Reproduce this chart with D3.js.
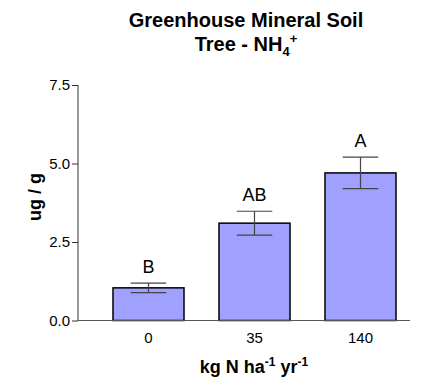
<!DOCTYPE html>
<html>
<head>
<meta charset="utf-8">
<script src="https://cdn.jsdelivr.net/npm/d3@7"></script>
<style>
  body { margin: 0; background: #fff; }
</style>
</head>
<body>
<div id="chart"></div>
<script>
// Data
const categories = ["0", "35", "140"];
const means = [1.04, 3.1, 4.7];
const errors = [0.15, 0.38, 0.5];
const letters = ["B", "AB", "A"];
const yTicks = [0, 2.5, 5.0, 7.5];

const width = 425;
const height = 386;
const font = "Arial, 'Liberation Sans', sans-serif";

const svg = d3.select("#chart")
  .append("svg")
  .attr("width", width)
  .attr("height", height)
  .style("font-family", font);

const y = d3.scaleLinear().domain([0, 7.5]).range([320.5, 85]);
const x = d3.scaleBand()
  .domain(categories)
  .range([95.5, 413.5])
  .paddingInner(0.33)
  .paddingOuter(0.165);

const axisX0 = 78;
const axisX1 = 410;

// Title
const title = svg.append("text")
  .attr("text-anchor", "middle")
  .style("font-size", "20px")
  .style("font-weight", "bold")
  .attr("fill", "#000");
title.append("tspan").attr("x", 246).attr("y", 27).text("Greenhouse Mineral Soil");
const t2 = title.append("tspan").attr("x", 246).attr("y", 51).text("Tree - NH");
t2.append("tspan").attr("dy", 5).style("font-size", "13px").text("4");
t2.append("tspan").attr("dy", -13).style("font-size", "13px").text("+");

// Bars
svg.selectAll("rect.bar")
  .data(categories)
  .join("rect")
  .attr("class", "bar")
  .attr("x", d => x(d))
  .attr("y", (d, i) => y(means[i]))
  .attr("width", x.bandwidth())
  .attr("height", (d, i) => y(0) - y(means[i]))
  .attr("fill", "#a0a0ff")
  .attr("stroke", "#000")
  .attr("stroke-width", 1.5);

// Error bars + significance letters
const capHalf = x.bandwidth() / 4;
categories.forEach((c, i) => {
  const cx = x(c) + x.bandwidth() / 2;
  const hi = y(means[i] + errors[i]);
  const lo = y(means[i] - errors[i]);
  const g = svg.append("g").attr("stroke", "#444").attr("stroke-width", 1.2);
  g.append("line").attr("x1", cx).attr("x2", cx).attr("y1", hi).attr("y2", lo);
  g.append("line").attr("x1", cx - capHalf).attr("x2", cx + capHalf).attr("y1", hi).attr("y2", hi);
  g.append("line").attr("x1", cx - capHalf).attr("x2", cx + capHalf).attr("y1", lo).attr("y2", lo);
  svg.append("text")
    .attr("x", cx)
    .attr("y", hi - 10)
    .attr("text-anchor", "middle")
    .style("font-size", "18px")
    .attr("fill", "#000")
    .text(letters[i]);
});

// Y axis
const yAxis = svg.append("g").attr("transform", `translate(${axisX0},0)`)
  .call(d3.axisLeft(y).tickValues(yTicks).tickFormat(d3.format(".1f")).tickSize(6).tickPadding(2));
yAxis.select(".domain").attr("stroke", "#333").attr("d", `M0,${y(7.5)}V${y(0)}`);
yAxis.selectAll(".tick line").attr("stroke", "#333");
yAxis.selectAll(".tick text")
  .style("font-size", "15px")
  .style("font-family", font)
  .attr("fill", "#000");

// X axis line
svg.append("line")
  .attr("x1", axisX0).attr("x2", axisX1)
  .attr("y1", y(0)).attr("y2", y(0))
  .attr("stroke", "#555").attr("stroke-width", 1);

// X tick labels
svg.selectAll("text.xlab")
  .data(categories)
  .join("text")
  .attr("class", "xlab")
  .attr("x", d => x(d) + x.bandwidth() / 2)
  .attr("y", 343)
  .attr("text-anchor", "middle")
  .style("font-size", "15px")
  .attr("fill", "#000")
  .text(d => d);

// X axis title
const xt = svg.append("text")
  .attr("x", 254)
  .attr("y", 373)
  .attr("text-anchor", "middle")
  .style("font-size", "18px")
  .style("font-weight", "bold")
  .attr("fill", "#000");
xt.append("tspan").text("kg N ha");
xt.append("tspan").attr("dy", -7).style("font-size", "12px").text("-1");
xt.append("tspan").attr("dy", 7).text(" yr");
xt.append("tspan").attr("dy", -7).style("font-size", "12px").text("-1");

// Y axis title
svg.append("text")
  .attr("transform", "translate(41,197) rotate(-90)")
  .attr("text-anchor", "middle")
  .style("font-size", "18px")
  .style("font-weight", "bold")
  .attr("fill", "#000")
  .text("ug / g");
</script>
</body>
</html>
